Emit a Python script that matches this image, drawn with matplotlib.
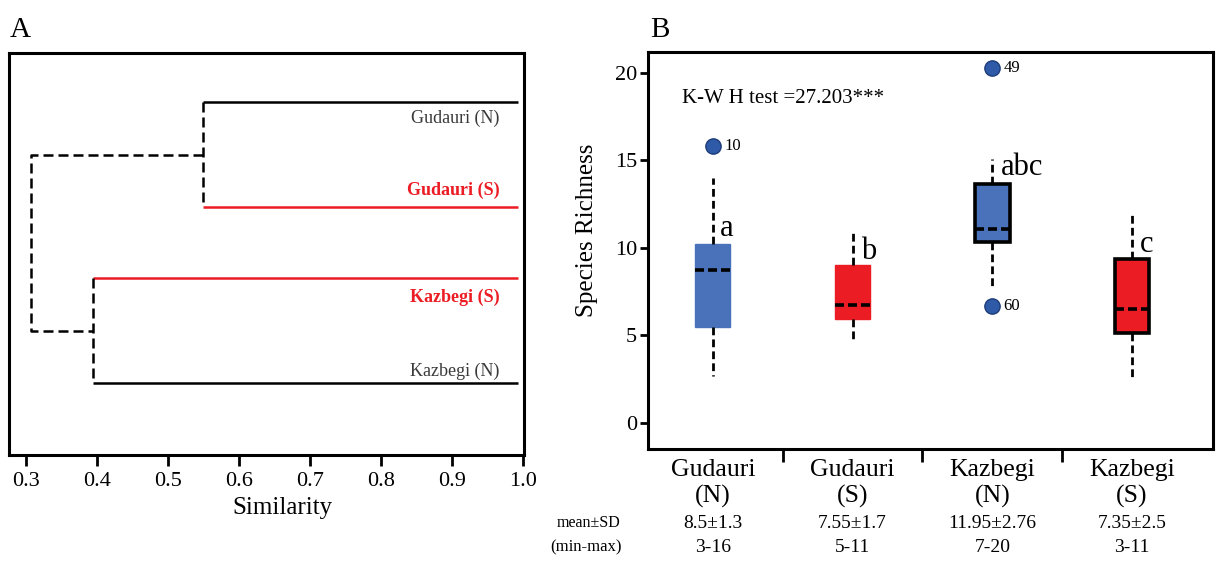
import matplotlib
matplotlib.use('Agg')
import matplotlib.pyplot as plt
from matplotlib import transforms

plt.rcParams['font.family'] = ['Liberation Serif', 'DejaVu Serif']

# --- panel A: similarity clustering of the four sites
leaf_names = ['Gudauri (N)', 'Gudauri (S)', 'Kazbegi (S)', 'Kazbegi (N)']
gudauri_sim = 0.55
kazbegi_sim = 0.395
root_sim = 0.307
sim_ticks = [0.3, 0.4, 0.5, 0.6, 0.7, 0.8, 0.9, 1.0]

# --- panel B: species richness per site
site = ['Gudauri', 'Gudauri', 'Kazbegi', 'Kazbegi']
aspect = ['(N)', '(S)', '(N)', '(S)']
q1 = [5.5, 5.95, 10.35, 5.15]
q3 = [10.2, 9.05, 13.65, 9.35]
med = [8.75, 6.75, 11.1, 6.5]
whislo = [2.7, 4.7, 7.65, 2.6]
whishi = [14.0, 11.05, 15.1, 11.9]
fliers = [[15.8], [], [20.3, 6.7], []]
flier_ids = [['10'], [], ['49', '60'], []]
sig_letters = ['a', 'b', 'abc', 'c']
mean_sd = ['8.5±1.3', '7.55±1.7', '11.95±2.76', '7.35±2.5']
min_max = ['3-16', '5-11', '7-20', '3-11']
kw_text = 'K-W H test =27.203***'

BLUE = '#4a72bb'
RED = '#ec1c24'
DOT = '#2f5aa8'

fig = plt.figure(figsize=(12.16, 5.63), dpi=100)

# ---------------- A ----------------
axA = fig.add_axes([9/1216, 1-455/563, 515/1216, 402/563])
leaf_y = [0.878, 0.617, 0.44, 0.179]     # layout only
label_dy = [-0.04, 0.042, -0.047, 0.03]
line_col = ['black', RED, RED, 'black']
text_col = ['#3a3a3a', RED, RED, '#3a3a3a']
node_x = [gudauri_sim, gudauri_sim, kazbegi_sim, kazbegi_sim]
dash = (0, (4, 2))

for i in range(4):
    axA.plot([node_x[i], 0.994], [leaf_y[i], leaf_y[i]], color=line_col[i],
             lw=1.8, solid_capstyle='butt')
    axA.text(0.968, leaf_y[i] + label_dy[i], leaf_names[i], color=text_col[i],
             ha='right', va='center', fontsize=13,
             fontweight='bold' if text_col[i] == RED else 'normal')

g_mid = (leaf_y[0] + leaf_y[1]) / 2
k_mid = (leaf_y[2] + leaf_y[3]) / 2
axA.plot([gudauri_sim, gudauri_sim], [leaf_y[0], leaf_y[1]], color='black', lw=1.8, ls=dash)
axA.plot([kazbegi_sim, kazbegi_sim], [leaf_y[2], leaf_y[3]], color='black', lw=1.8, ls=dash)
axA.plot([gudauri_sim, root_sim, root_sim, kazbegi_sim], [g_mid, g_mid, k_mid, k_mid],
         color='black', lw=1.8, ls=dash)

axA.set_xlim(0.2765, 1.002)
axA.set_ylim(0, 1)
axA.set_xticks(sim_ticks)
axA.set_xticklabels([f'{t:.1f}' for t in sim_ticks])
axA.set_yticks([])
axA.tick_params(axis='x', direction='out', length=8, width=2, labelsize=16, pad=4)
for s in axA.spines.values():
    s.set_linewidth(2.2)
axA.set_xlabel('Similarity', fontsize=18)
axA.xaxis.set_label_coords(0.53, -0.105)

# ---------------- B ----------------
axB = fig.add_axes([648/1216, 1-449/563, 565/1216, 397/563])
pos = [1, 2, 3, 4]
stats = []
for i in range(4):
    stats.append(dict(med=med[i], q1=q1[i], q3=q3[i], whislo=whislo[i],
                      whishi=whishi[i], fliers=fliers[i]))

bp = axB.bxp(stats, positions=pos, widths=0.25, patch_artist=True, showcaps=False,
             whiskerprops=dict(color='black', lw=2.0, ls=(0, (2.8, 1.5))),
             medianprops=dict(color='black', lw=2.6, ls=(0, (2.5, 1.1))),
             flierprops=dict(marker='o', markersize=11, markerfacecolor=DOT,
                             markeredgecolor='#1d3c78', markeredgewidth=1))
box_fill = [BLUE, RED, BLUE, RED]
for i, b in enumerate(bp['boxes']):
    b.set_facecolor(box_fill[i])
    if i < 2:
        b.set_edgecolor(box_fill[i])
        b.set_linewidth(1)
    else:
        b.set_edgecolor('black')
        b.set_linewidth(2.6)

for i in range(4):
    for v, lab in zip(fliers[i], flier_ids[i]):
        axB.annotate(lab, (pos[i], v), xytext=(8, 0), textcoords='offset points',
                     ha='left', va='center', fontsize=12)

letter_y = [11.1, 9.8, 14.6, 10.2]
letter_dx = [0.05, 0.06, 0.06, 0.06]
for i in range(4):
    axB.text(pos[i] + letter_dx[i], letter_y[i], sig_letters[i], ha='left',
             va='center', fontsize=22)

axB.text(0.06, 0.882, kw_text, transform=axB.transAxes, ha='left', va='center',
         fontsize=15)

axB.set_xlim(0.535, 4.58)
axB.set_ylim(-1.49, 21.2)
axB.set_yticks([0, 5, 10, 15, 20])
axB.set_xticks([1.5, 2.5, 3.5])
axB.set_xticklabels([])
axB.tick_params(axis='y', direction='out', length=6, width=2, labelsize=16, pad=2)
axB.tick_params(axis='x', direction='out', length=9, width=2)
for s in axB.spines.values():
    s.set_linewidth(2.2)
axB.set_ylabel('Species Richness', fontsize=18)
axB.yaxis.set_label_coords(-0.088, 0.55)

tr = transforms.blended_transform_factory(axB.transData, fig.transFigure)
for i in range(4):
    axB.text(pos[i], 1-470/563, site[i], transform=tr, ha='center', va='center', fontsize=18.5)
    axB.text(pos[i], 1-496/563, aspect[i], transform=tr, ha='center', va='center', fontsize=18.5)
    axB.text(pos[i], 1-523/563, mean_sd[i], transform=tr, ha='center', va='center', fontsize=14)
    axB.text(pos[i], 1-547/563, min_max[i], transform=tr, ha='center', va='center', fontsize=14)
fig.text(620/1216, 1-523/563, 'mean±SD', ha='right', va='center', fontsize=11.5)
fig.text(622/1216, 1-547/563, '(min-max)', ha='right', va='center', fontsize=12)

fig.text(20/1216, 1-30/563, 'A', ha='center', va='center', fontsize=21)
fig.text(660/1216, 1-30/563, 'B', ha='center', va='center', fontsize=21)

fig.savefig('out.png', dpi=100)
